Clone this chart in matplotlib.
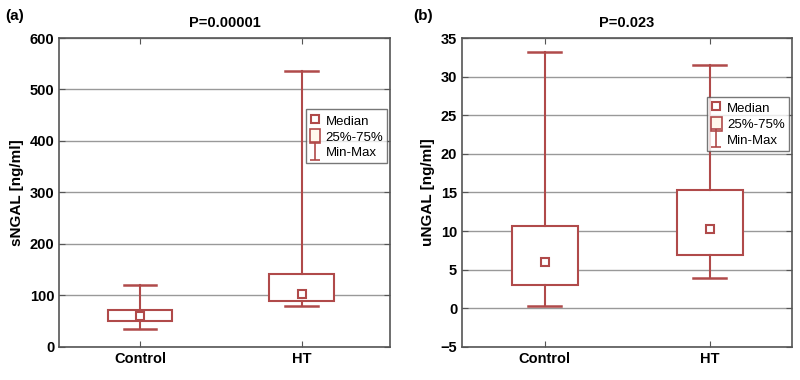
import matplotlib.pyplot as plt
from matplotlib.lines import Line2D
from matplotlib.patches import Patch
from matplotlib.path import Path

plt.rcParams['font.family'] = ['Liberation Sans', 'DejaVu Sans']

groups = ['Control', 'HT']

# panel (a) sNGAL
s_min = [35, 80]
s_q1 = [50, 89]
s_med = [60, 103]
s_q3 = [71, 141]
s_max = [121, 536]

# panel (b) uNGAL
u_min = [0.35, 3.95]
u_q1 = [3.0, 6.9]
u_med = [5.95, 10.3]
u_q3 = [10.7, 15.35]
u_max = [33.2, 31.45]

red = '#b04a4a'
frame = '#555555'

ipath = Path([(-0.5, -1), (0.5, -1), (0, -1), (0, 1), (-0.5, 1), (0.5, 1)],
             [Path.MOVETO, Path.LINETO, Path.MOVETO, Path.LINETO, Path.MOVETO, Path.LINETO])


def panel(ax, mins, q1s, meds, q3s, maxs, ylim, yticks, ylabel, title, xright, legend_y):
    stats = []
    for i, g in enumerate(groups):
        stats.append(dict(label=g, whislo=mins[i], q1=q1s[i], med=meds[i],
                          q3=q3s[i], whishi=maxs[i], fliers=[]))
    ax.bxp(stats, positions=[0, 1], widths=0.4, capwidths=0.2, patch_artist=True,
           showfliers=False,
           boxprops=dict(facecolor='white', edgecolor=red, linewidth=1.5),
           whiskerprops=dict(color=red, linewidth=1.5),
           capprops=dict(color=red, linewidth=1.8),
           medianprops=dict(linewidth=0), zorder=3)
    ax.plot([0, 1], meds, linestyle='none', marker='s', markersize=5.5,
            markerfacecolor='white', markeredgecolor=red, markeredgewidth=1.5, zorder=4)
    ax.set_xlim(-0.5, xright)
    ax.set_ylim(*ylim)
    ax.set_yticks(yticks)
    ax.set_xticks([0, 1])
    ax.set_xticklabels(groups, fontsize=10.5, fontweight='bold')
    for lab in ax.get_yticklabels():
        lab.set_fontsize(10.5)
        lab.set_fontweight('bold')
    ax.yaxis.grid(True, color='#999999', linewidth=1)
    ax.set_axisbelow(True)
    ax.tick_params(direction='in', top=True, right=True, color=frame, length=4)
    for sp in ax.spines.values():
        sp.set_color(frame)
        sp.set_linewidth(1.2)
    ax.set_ylabel(ylabel, fontsize=11, fontweight='bold')
    ax.set_title(title, fontsize=10.5, fontweight='bold', pad=8)

    handles = [
        Line2D([], [], linestyle='none', marker='s', markersize=5.5,
               markerfacecolor='white', markeredgecolor=red, markeredgewidth=1.5),
        Patch(facecolor='#fff8ec', edgecolor=red, linewidth=1.2),
        Line2D([], [], linestyle='none', marker=ipath, markersize=13,
               markeredgecolor=red, markeredgewidth=1.2),
    ]
    leg = ax.legend(handles, ['Median', '25%-75%', 'Min-Max'], loc='upper right',
                    bbox_to_anchor=(0.99, legend_y), fontsize=9.5, frameon=True,
                    fancybox=False, edgecolor='#555555', handlelength=0.8,
                    handleheight=1.3, handletextpad=0.4, labelspacing=0.1,
                    borderpad=0.3, borderaxespad=0)
    leg.get_frame().set_linewidth(1)
    return ax


fig = plt.figure(figsize=(8, 3.8), dpi=100)
ax1 = fig.add_axes([0.074, 0.087, 0.414, 0.813])
ax2 = fig.add_axes([0.5775, 0.087, 0.4125, 0.813])

panel(ax1, s_min, s_q1, s_med, s_q3, s_max, (0, 600), range(0, 601, 100),
      'sNGAL [ng/ml]', 'P=0.00001', 1.55, 0.77)
panel(ax2, u_min, u_q1, u_med, u_q3, u_max, (-5, 35), range(-5, 36, 5),
      'uNGAL [ng/ml]', 'P=0.023', 1.5, 0.81)

fig.text(0.006, 0.948, '(a)', fontsize=11, fontweight='bold')
fig.text(0.516, 0.948, '(b)', fontsize=11, fontweight='bold')

fig.savefig('out.png', dpi=100)
